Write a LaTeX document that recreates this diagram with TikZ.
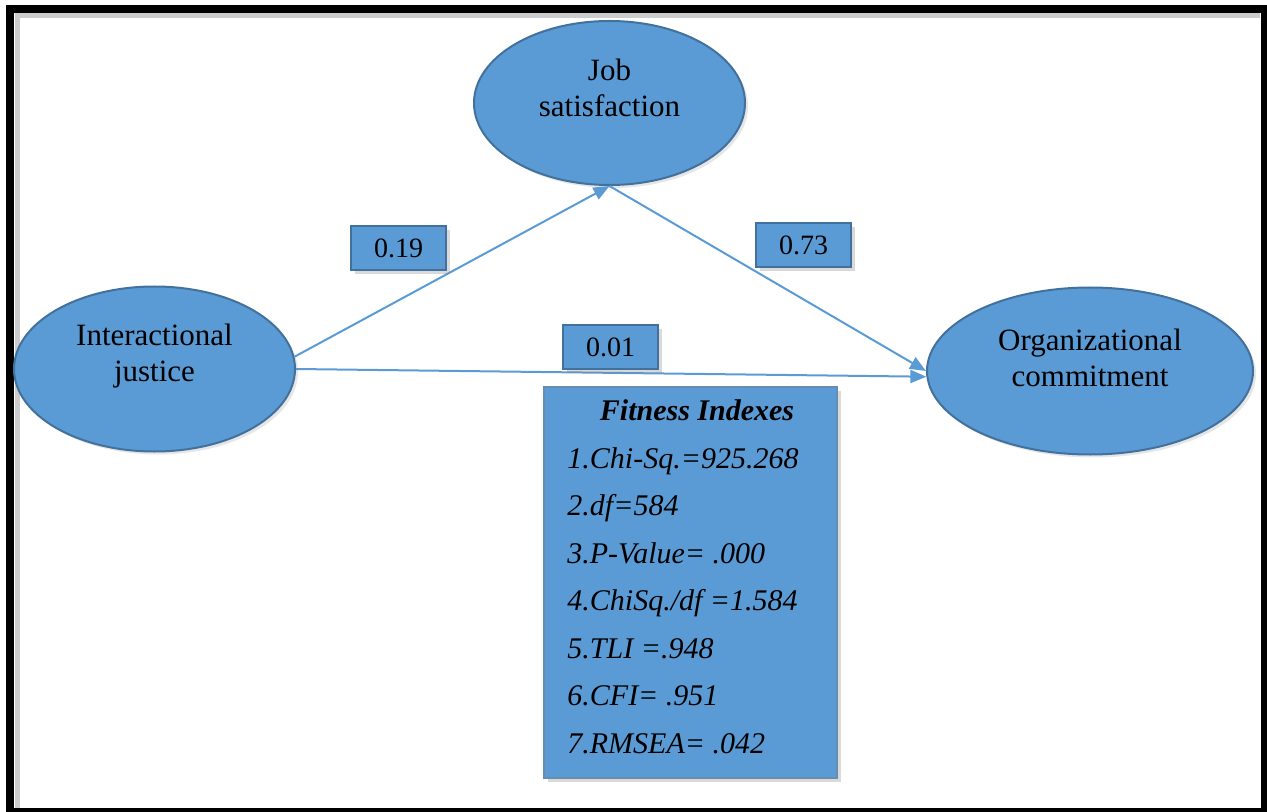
\documentclass[tikz,border=0pt]{standalone}
\usepackage{fontspec}
\setmainfont{Liberation Serif}
\usetikzlibrary{arrows.meta,positioning,shapes.geometric,shadows}

\definecolor{boxblue}{RGB}{91,155,213}
\definecolor{edgeblue}{RGB}{65,113,156}

\begin{document}
\begin{tikzpicture}[x=0.5pt, y=-0.5pt,
    % --- Construct (latent variable) styles ---
    construct/.style={ellipse, draw=edgeblue, line width=1pt, fill=boxblue, inner sep=0pt,
                      drop shadow={opacity=0.2, shadow xshift=1.5pt, shadow yshift=-1.5pt}},
    construct text/.style={align=center, inner sep=0pt,
                      font=\fontsize{15.5}{18}\selectfont},
    % --- Path coefficient boxes ---
    coef/.style={rectangle, draw=edgeblue, line width=1pt, fill=boxblue,
                 minimum width=47.5pt, minimum height=22pt, inner sep=0pt,
                 font=\fontsize{14}{16}\selectfont,
                 drop shadow={opacity=0.3, shadow xshift=2pt, shadow yshift=-2pt}},
    % --- Structural paths ---
    path arrow/.style={draw=boxblue, line width=1pt, -{Triangle[length=8pt, width=6.5pt]}},
    % --- Fit index box ---
    fitbox/.style={rectangle, draw=edgeblue!80, line width=1pt, fill=boxblue,
                   minimum width=146.5pt, minimum height=195.5pt, inner sep=0pt,
                   drop shadow={opacity=0.3, shadow xshift=2pt, shadow yshift=-2pt}},
    fit title/.style={anchor=base, inner sep=0pt,
                      font=\bfseries\itshape\fontsize{15}{18}\selectfont},
    fit line/.style={anchor=base west, inner sep=0pt,
                     font=\itshape\fontsize{15}{18}\selectfont},
]

\useasboundingbox (0,0) rectangle (1267,812);
\clip (0,0) rectangle (1267,812);

% ============================================================
% Frame
% ============================================================
\draw[black!20, line width=2.5pt] (17,808) -- (17,16) -- (1260,16);
\draw[line width=4pt] (10,9) rectangle (1265,812);

% ============================================================
% Constructs
% ============================================================
\node[construct, minimum width=135.5pt, minimum height=82pt]   (job) at ( 609.5, 103) {};
\node[construct, minimum width=140.5pt, minimum height=82.5pt] (ij)  at ( 154.5, 369) {};
\node[construct, minimum width=163pt,   minimum height=83.5pt] (oc)  at (1090,   371) {};

\node[construct text] (jobtxt) at ([yshift=7.5pt]job.center) {Job\\satisfaction};
\node[construct text] (ijtxt)  at ([yshift=6.5pt]ij.center)  {Interactional\\justice};
\node[construct text] (octxt)  at ([yshift=6.5pt]oc.center)  {Organizational\\commitment};

% ============================================================
% Structural paths
% ============================================================
\draw[path arrow] (ij.5)     -- (job.south);
\draw[path arrow] (job.south) -- (oc.west);
\draw[path arrow] (ij.east)  -- (oc.182);

% Path coefficients
\node[coef] (c1) at (398.5, 248.5) {0.19};
\node[coef] (c2) at (803.5, 245.5) {0.73};
\node[coef] (c3) at (610.5, 347)   {0.01};

% ============================================================
% Fitness indexes
% ============================================================
\node[fitbox] (fit) at (690.5, 582.5) {};
\node[fit title] (fittitle) at (697, 420) {Fitness Indexes};
\foreach \t [count=\k] in {1.Chi-Sq.=925.268, 2.df=584, 3.P-Value= .000,
    4.ChiSq./df =1.584, 5.TLI =.948, 6.CFI= .951, 7.RMSEA= .042}
  \node[fit line] (fit\k) at (567, 420.5+47.5*\k) {\t};

\end{tikzpicture}
\end{document}
